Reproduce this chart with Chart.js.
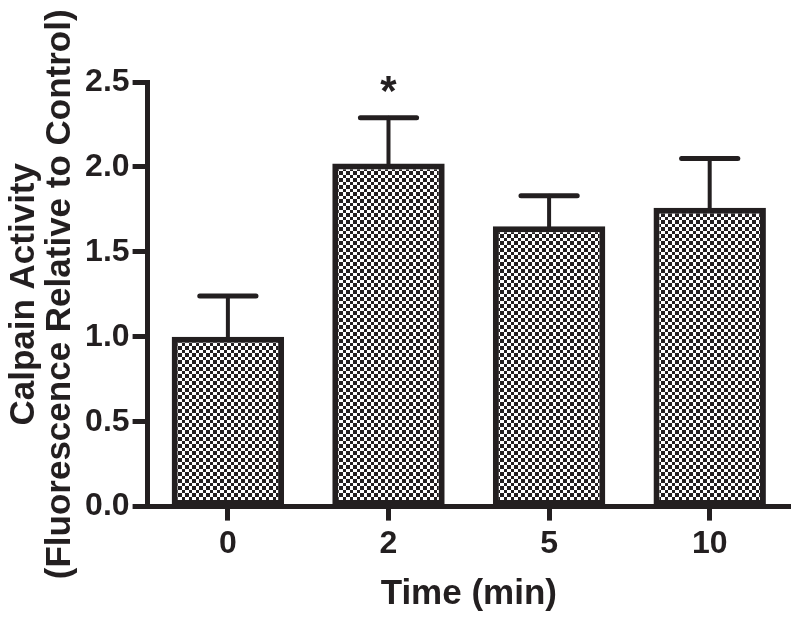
<!DOCTYPE html>
<html><head><meta charset="utf-8">
<script src="https://cdn.jsdelivr.net/npm/chart.js@4/dist/chart.umd.min.js"></script>
<style>html,body{margin:0;padding:0;background:#fff}#wrap{width:800px;height:619px}</style>
</head><body><div id="wrap"><canvas id="c" width="800" height="619"></canvas></div>
<script>
const categories = ['0', '2', '5', '10'];
const activity = [1.00, 2.02, 1.65, 1.76];
const sem = [0.24, 0.27, 0.18, 0.29];
const significance = ['', '*', '', ''];
const yTicks = [0, 0.5, 1.0, 1.5, 2.0, 2.5];

const INK = '#231f20';
const FONT = "'Liberation Sans', Arial, sans-serif";

function checkerPattern() {
  const t = document.createElement('canvas');
  t.width = 14; t.height = 14;
  const g = t.getContext('2d');
  g.fillStyle = '#fff'; g.fillRect(0, 0, 14, 14);
  g.fillStyle = INK;
  const edges = [0, 3, 7, 10, 14];
  for (let i = 0; i < 4; i++) for (let j = 0; j < 4; j++) {
    if ((i + j) % 2 === 0) g.fillRect(edges[i], edges[j], edges[i+1]-edges[i], edges[j+1]-edges[j]);
  }
  return document.getElementById('c').getContext('2d').createPattern(t, 'repeat');
}

const errorBars = {
  id: 'errorBars',
  afterDatasetsDraw(chart) {
    const ctx = chart.ctx, y = chart.scales.y;
    const meta = chart.getDatasetMeta(0);
    ctx.save();
    ctx.strokeStyle = INK; ctx.fillStyle = INK;
    ctx.lineCap = 'round';
    meta.data.forEach((bar, i) => {
      const x = bar.x;
      const yb = y.getPixelForValue(activity[i]);
      const yt = y.getPixelForValue(activity[i] + sem[i]);
      const half = bar.width * 0.25;
      ctx.lineWidth = 4;
      ctx.beginPath(); ctx.moveTo(x, yb); ctx.lineTo(x, yt); ctx.stroke();
      ctx.lineWidth = 5;
      ctx.beginPath(); ctx.moveTo(x - half, yt); ctx.lineTo(x + half, yt); ctx.stroke();
      if (significance[i]) {
        ctx.font = 'bold 42px ' + FONT;
        ctx.textAlign = 'center'; ctx.textBaseline = 'alphabetic';
        ctx.fillText(significance[i], x, yt - 13);
      }
    });
    ctx.restore();
  }
};

new Chart(document.getElementById('c'), {
  type: 'bar',
  data: {
    labels: categories,
    datasets: [{
      data: activity,
      backgroundColor: checkerPattern(),
      borderColor: INK,
      borderWidth: 6,
      borderSkipped: false,
      categoryPercentage: 0.7,
      barPercentage: 1.0
    }]
  },
  options: {
    responsive: false,
    animation: false,
    layout: { padding: { top: 82, right: 10, left: 6, bottom: 4 } },
    plugins: { legend: { display: false }, tooltip: { enabled: false } },
    scales: {
      x: {
        offset: true,
        grid: { display: true, drawOnChartArea: false, offset: false, tickLength: 14, tickWidth: 5, tickColor: INK },
        border: { display: true, width: 5, color: INK },
        ticks: { color: INK, font: { family: FONT, size: 32, weight: 'bold' }, padding: 4 },
        title: { display: true, text: 'Time (min)', color: INK, font: { family: FONT, size: 35, weight: 'bold' }, padding: { top: 6, bottom: 0 } }
      },
      y: {
        min: 0, max: 2.5,
        afterBuildTicks: s => { s.ticks = yTicks.map(v => ({ value: v })); },
        grid: { display: true, drawOnChartArea: false, tickLength: 15, tickWidth: 5, tickColor: INK },
        border: { display: true, width: 5, color: INK },
        ticks: { color: INK, font: { family: FONT, size: 32, weight: 'bold' }, padding: 3, callback: v => Number(v).toFixed(1) },
        title: { display: true, text: ['Calpain Activity', '(Fluorescence Relative to Control)'], color: INK,
                 font: { family: FONT, size: 35, weight: 'bold', lineHeight: 1.03 }, padding: { top: 0, bottom: 4 } }
      }
    }
  },
  plugins: [errorBars]
});
</script></body></html>
